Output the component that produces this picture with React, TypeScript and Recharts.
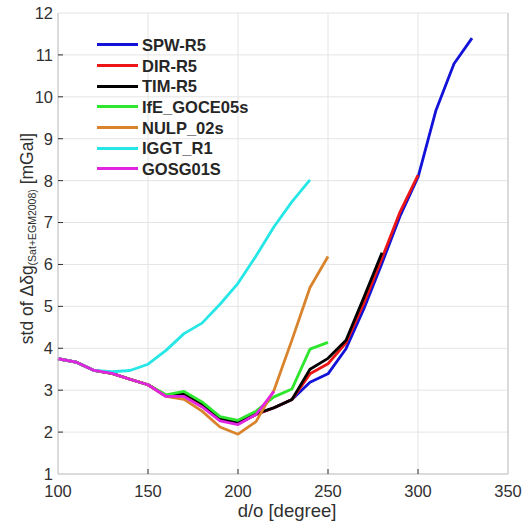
import { CartesianGrid, Label, Legend, Line, LineChart, XAxis, YAxis } from "recharts";

const degrees = [100, 110, 120, 130, 140, 150, 160, 170, 180, 190, 200, 210, 220, 230, 240, 250, 260, 270, 280, 290, 300, 310, 320, 330];

const spwR5 = [3.75, 3.67, 3.47, 3.4, 3.26, 3.13, 2.87, 2.9, 2.66, 2.3, 2.2, 2.42, 2.58, 2.78, 3.19, 3.39, 3.99, 4.95, 6.03, 7.15, 8.08, 9.68, 10.79, 11.4];
const dirR5 = [3.75, 3.67, 3.47, 3.4, 3.26, 3.13, 2.87, 2.9, 2.66, 2.3, 2.2, 2.42, 2.58, 2.78, 3.39, 3.63, 4.13, 5.08, 6.15, 7.25, 8.13, null, null, null];
const timR5 = [3.75, 3.67, 3.47, 3.4, 3.26, 3.13, 2.87, 2.92, 2.68, 2.32, 2.22, 2.44, 2.58, 2.78, 3.5, 3.76, 4.19, 5.22, 6.28, null, null, null, null, null];
const ifeGoce05s = [3.75, 3.67, 3.47, 3.4, 3.26, 3.13, 2.89, 2.97, 2.72, 2.37, 2.28, 2.5, 2.84, 3.03, 3.98, 4.14, null, null, null, null, null, null, null, null];
const nulp02s = [3.75, 3.67, 3.47, 3.4, 3.26, 3.13, 2.85, 2.78, 2.5, 2.12, 1.95, 2.25, 3.0, 4.2, 5.45, 6.19, null, null, null, null, null, null, null, null];
const iggtR1 = [3.75, 3.67, 3.47, 3.44, 3.47, 3.62, 3.95, 4.35, 4.6, 5.05, 5.55, 6.2, 6.9, 7.5, 8.02, null, null, null, null, null, null, null, null, null];
const gosg01s = [3.75, 3.67, 3.47, 3.4, 3.26, 3.13, 2.85, 2.85, 2.6, 2.27, 2.18, 2.42, 2.97, null, null, null, null, null, null, null, null, null, null, null];

const xTicks = [100, 150, 200, 250, 300, 350];
const yTicks = [1, 2, 3, 4, 5, 6, 7, 8, 9, 10, 11, 12];

const series = [
  { key: "spw", name: "SPW-R5", values: spwR5, color: "#1212d8" },
  { key: "dir", name: "DIR-R5", values: dirR5, color: "#ec1616" },
  { key: "tim", name: "TIM-R5", values: timR5, color: "#000000" },
  { key: "ife", name: "IfE_GOCE05s", values: ifeGoce05s, color: "#2ee62e" },
  { key: "nulp", name: "NULP_02s", values: nulp02s, color: "#d9842c" },
  { key: "iggt", name: "IGGT_R1", values: iggtR1, color: "#26e6e6" },
  { key: "gosg", name: "GOSG01S", values: gosg01s, color: "#e024e0" },
];

const chartData = degrees.map((deg, i) => {
  const row: Record<string, number | null> = { deg };
  series.forEach((s) => {
    row[s.key] = s.values[i];
  });
  return row;
});

const font = "'Liberation Sans', Arial, sans-serif";
const tickColor = "#303030";

const isEdge = (v: number, list: number[]) => v === list[0] || v === list[list.length - 1];

function LeftTick({ x, y, payload }: any) {
  return (
    <g>
      {!isEdge(payload.value, yTicks) && <line x1={x} x2={x + 5} y1={y} y2={y} stroke={tickColor} />}
      <text x={x - 5} y={y} dy="0.36em" textAnchor="end" fill={tickColor} fontSize={16.5} fontFamily={font}>
        {payload.value}
      </text>
    </g>
  );
}

function RightTick({ x, y, payload }: any) {
  if (isEdge(payload.value, yTicks)) return <g />;
  return <line x1={x} x2={x - 5} y1={y} y2={y} stroke={tickColor} />;
}

function BottomTick({ x, y, payload }: any) {
  return (
    <g>
      {!isEdge(payload.value, xTicks) && <line x1={x} x2={x} y1={y} y2={y - 5} stroke={tickColor} />}
      <text x={x} y={y + 23} textAnchor="middle" fill={tickColor} fontSize={16.5} fontFamily={font}>
        {payload.value}
      </text>
    </g>
  );
}

function TopTick({ x, y, payload }: any) {
  if (isEdge(payload.value, xTicks)) return <g />;
  return <line x1={x} x2={x} y1={y} y2={y + 5} stroke={tickColor} />;
}

function YTitle({ viewBox }: any) {
  const cx = viewBox.x + 33;
  const cy = viewBox.y + viewBox.height / 2 - 5;
  return (
    <text
      x={cx}
      y={cy}
      transform={`rotate(-90 ${cx} ${cy})`}
      textAnchor="middle"
      fill={tickColor}
      fontSize={17.5}
      fontFamily={font}
    >
      <tspan>std of Δδg</tspan>
      <tspan fontSize={10.5} dy={3}>(Sat+EGM2008)</tspan>
      <tspan dy={-3}> [mGal]</tspan>
    </text>
  );
}

function XTitle({ viewBox }: any) {
  return (
    <text
      x={viewBox.x + viewBox.width / 2 + 4}
      y={viewBox.y + 43}
      textAnchor="middle"
      fill={tickColor}
      fontSize={18.5}
      fontFamily={font}
    >
      d/o [degree]
    </text>
  );
}

function LegendBox() {
  return (
    <div style={{ fontFamily: font }}>
      {series.map((s) => (
        <div key={s.key} style={{ display: "flex", alignItems: "center", height: 20.7 }}>
          <div style={{ width: 41, height: 3, background: s.color }} />
          <span style={{ marginLeft: 4, fontSize: 16.5, fontWeight: 700, color: "#262626", lineHeight: "20px" }}>
            {s.name}
          </span>
        </div>
      ))}
    </div>
  );
}

export default function App() {
  return (
    <div style={{ position: "absolute", left: 0, top: 0, width: 532, height: 526, background: "#fff" }}>
      <LineChart width={532} height={526} data={chartData} margin={{ top: 13, right: 0, bottom: 0, left: 0 }}>
        <CartesianGrid xAxisId="x" yAxisId="y" stroke="#e4e4e4" strokeWidth={1} />
        <XAxis
          xAxisId="x"
          dataKey="deg"
          type="number"
          domain={[100, 350]}
          ticks={xTicks}
          height={52}
          tickSize={0}
          tickMargin={0}
          tick={<BottomTick />}
          axisLine={{ stroke: "#c4c4c4" }}
          interval={0}
        >
          <Label content={<XTitle />} />
        </XAxis>
        <XAxis
          xAxisId="top"
          orientation="top"
          dataKey="deg"
          type="number"
          domain={[100, 350]}
          ticks={xTicks}
          height={0}
          tickSize={0}
          tickMargin={0}
          tick={<TopTick />}
          axisLine={{ stroke: "#c4c4c4" }}
          interval={0}
        />
        <YAxis
          yAxisId="y"
          type="number"
          domain={[1, 12]}
          ticks={yTicks}
          width={58}
          tickSize={0}
          tickMargin={0}
          tick={<LeftTick />}
          axisLine={{ stroke: "#c4c4c4" }}
          interval={0}
        >
          <Label content={<YTitle />} />
        </YAxis>
        <YAxis
          yAxisId="right"
          orientation="right"
          type="number"
          domain={[1, 12]}
          ticks={yTicks}
          width={24}
          tickSize={0}
          tickMargin={0}
          tick={<RightTick />}
          axisLine={{ stroke: "#c4c4c4" }}
          interval={0}
        />
        <Legend
          layout="vertical"
          align="center"
          verticalAlign="middle"
          content={<LegendBox />}
          wrapperStyle={{ left: 97, top: 34.5, width: 200, height: 150 }}
        />
        {series.map((s) => (
          <Line
            key={s.key}
            xAxisId="x"
            yAxisId="y"
            dataKey={s.key}
            name={s.name}
            stroke={s.color}
            strokeWidth={2.8}
            dot={false}
            activeDot={false}
            strokeLinejoin="round"
            isAnimationActive={false}
          />
        ))}
      </LineChart>
    </div>
  );
}
